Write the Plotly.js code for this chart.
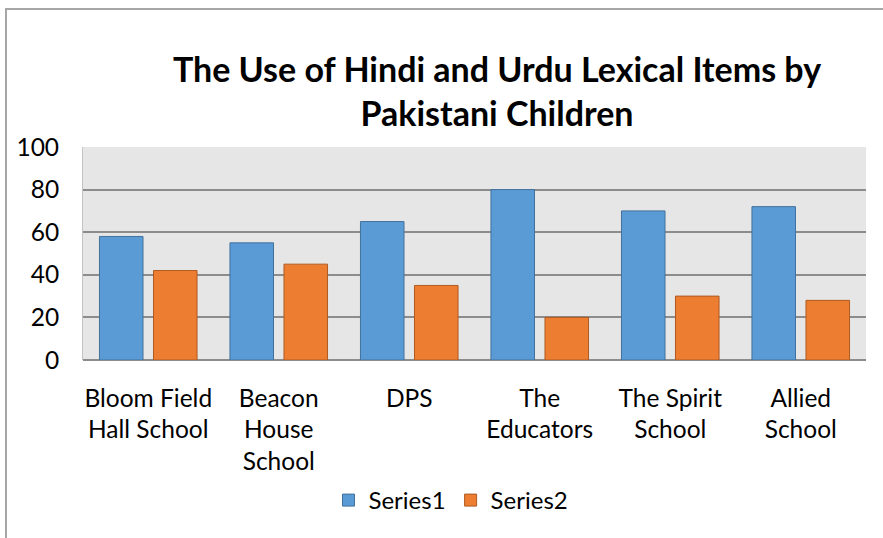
<!DOCTYPE html>
<html>
<head>
<meta charset="utf-8">
<script src="https://cdn.plot.ly/plotly-3.0.1.min.js"></script>
<style>
html,body{margin:0;padding:0;background:#fff;}
#chart{width:883px;height:538px;}
</style>
</head>
<body>
<div id="chart"></div>
<script>
var categories = ["Bloom Field<br>Hall School", "Beacon<br>House<br>School", "DPS", "The<br>Educators", "The Spirit<br>School", "Allied<br>School"];
var series1 = [58, 55, 65, 80, 70, 72];
var series2 = [42, 45, 35, 20, 30, 28];
var seriesNames = ["Series1", "Series2"];
var yTicks = [0, 20, 40, 60, 80, 100];

var W = 883, H = 538;
var mL = 83, mR = 17, mT = 147, mB = 178;
var pw = W - mL - mR, ph = H - mT - mB;
function px2x(px){ return (px - mL) / pw; }
function py2y(py){ return (H - mB - py) / ph; }

var font = "Lato, 'Open Sans', sans-serif";

var traces = [
  {type:"bar", name:seriesNames[0], x:categories, y:series1,
   marker:{color:"#5B9BD5", line:{color:"#41719C", width:1}}},
  {type:"bar", name:seriesNames[1], x:categories, y:series2,
   marker:{color:"#ED7D31", line:{color:"#AE5A21", width:1}}}
];

var layout = {
  width: W, height: H,
  margin: {l:mL, r:mR, t:mT, b:mB, pad:0},
  paper_bgcolor: "#ffffff",
  plot_bgcolor: "#e7e6e6",
  barmode: "group",
  bargap: 0.172,
  bargroupgap: 0.194,
  font: {family: font, color: "#000000", size: 24},
  title: {
    text: "<b>The Use of Hindi and Urdu Lexical Items by<br>Pakistani Children</b>",
    font: {family: font, size: 34, color: "#000000"},
    x: 497 / W, xanchor: "center", xref: "container",
    y: 1 - 82 / H, yanchor: "top", yref: "container"
  },
  xaxis: {
    showgrid: false, zeroline: false, showline: false,
    ticks: "", ticklabelstandoff: 21,
    tickfont: {family: font, size: 24.5, color: "#000000"},
    fixedrange: true
  },
  yaxis: {
    range: [0, 100], tickvals: yTicks, ticktext: yTicks.map(String),
    showgrid: true, gridcolor: "#8c8c8c", gridwidth: 2,
    zeroline: true, zerolinecolor: "#8c8c8c", zerolinewidth: 2,
    showline: true, linecolor: "#c4c4c4", linewidth: 1,
    ticks: "", ticklabelstandoff: 18,
    tickfont: {family: font, size: 24.5, color: "#000000"},
    fixedrange: true
  },
  showlegend: true,
  legend: {
    orientation: "h", x: px2x(451), xanchor: "center",
    y: py2y(478), yanchor: "top",
    font: {family: font, size: 24, color: "#000000"},
    itemwidth: 30, traceorder: "normal", bgcolor: "rgba(0,0,0,0)"
  },
  shapes: [{
    type: "rect", xref: "paper", yref: "paper",
    x0: px2x(6), y0: py2y(560), x1: px2x(900), y1: py2y(9),
    line: {color: "#a6a6a6", width: 2}, fillcolor: "rgba(0,0,0,0)", layer: "below"
  }]
};

Plotly.newPlot("chart", traces, layout, {displayModeBar: false, staticPlot: true});
</script>
</body>
</html>
